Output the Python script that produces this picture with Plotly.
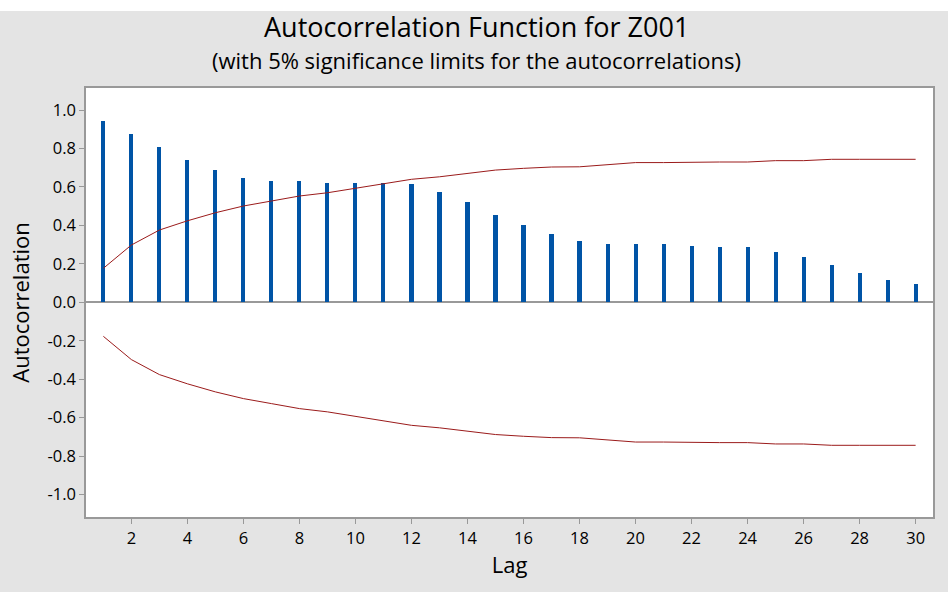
import plotly.graph_objects as go

lags = list(range(1, 31))
acf = [0.943, 0.875, 0.808, 0.740, 0.688, 0.646, 0.631, 0.631, 0.620, 0.620,
       0.619, 0.615, 0.574, 0.521, 0.454, 0.402, 0.355, 0.319, 0.303, 0.303,
       0.303, 0.293, 0.288, 0.288, 0.262, 0.236, 0.194, 0.153, 0.116, 0.095]
upper = [0.177, 0.298, 0.376, 0.424, 0.466, 0.501, 0.527, 0.553, 0.570, 0.593,
         0.619, 0.640, 0.653, 0.670, 0.688, 0.697, 0.704, 0.705, 0.716, 0.727,
         0.727, 0.730, 0.730, 0.730, 0.737, 0.737, 0.744, 0.744, 0.744, 0.744]
lower = [-u for u in upper]
xticks = list(range(2, 31, 2))
yticks = [-1.0, -0.8, -0.6, -0.4, -0.2, 0.0, 0.2, 0.4, 0.6, 0.8, 1.0]
ytick_text = ["-1.0", "-0.8", "-0.6", "-0.4", "-0.2", "0.0", "0.2", "0.4", "0.6", "0.8", "1.0"]

FONT = "Open Sans"
PH = 429  # plot height in px
fig = go.Figure()
fig.add_trace(go.Bar(x=lags, y=acf, width=0.145, marker=dict(color="#0054A6", line=dict(width=0)),
                     showlegend=False))
fig.add_trace(go.Scatter(x=lags, y=upper, mode="lines", line=dict(color="#9B1B1B", width=1),
                         showlegend=False))
fig.add_trace(go.Scatter(x=lags, y=lower, mode="lines", line=dict(color="#9B1B1B", width=1),
                         showlegend=False))

fig.update_layout(
    width=948, height=592,
    margin=dict(l=86, r=15, t=88, b=75),
    paper_bgcolor="#E4E4E4",
    plot_bgcolor="white",
    font=dict(family=FONT, color="black"),
    shapes=[dict(type="rect", xref="paper", yref="paper", x0=-0.2, x1=1.1,
                 y0=1.0 + 77 / PH, y1=1.0 + 88 / PH, fillcolor="white", line=dict(width=0),
                 layer="above")],
    annotations=[
        dict(text="Autocorrelation Function for Z001", xref="paper", yref="paper",
             x=(476 - 86) / 847, y=1.0 + (88 - 26) / PH, xanchor="center", yanchor="middle",
             showarrow=False, font=dict(size=27, family=FONT, color="black")),
        dict(text="(with 5% significance limits for the autocorrelations)", xref="paper", yref="paper",
             x=(476 - 86) / 847, y=1.0 + (88 - 60) / PH, xanchor="center", yanchor="middle",
             showarrow=False, font=dict(size=22, family=FONT, color="black")),
    ],
    bargap=0,
)
fig.update_xaxes(range=[0.38, 30.62], tickvals=xticks, ticks="outside", ticklen=5,
                 tickcolor="#999999", showline=True, linecolor="#999999", linewidth=1.5, mirror=True,
                 showgrid=False, zeroline=False, tickfont=dict(size=16.5),
                 title=dict(text="Lag", font=dict(size=22), standoff=6))
fig.update_yaxes(range=[-1.117, 1.115], tickvals=yticks, ticktext=ytick_text, ticks="outside", ticklen=5,
                 tickcolor="#999999", showline=True, linecolor="#999999", linewidth=1.5, mirror=True,
                 showgrid=False, zeroline=True, zerolinecolor="#999999", zerolinewidth=1.5,
                 tickfont=dict(size=16.5),
                 title=dict(text="Autocorrelation", font=dict(size=22), standoff=12))

fig.write_html("out.html", config={"displayModeBar": False},
               post_script="document.body.style.margin='0';")
